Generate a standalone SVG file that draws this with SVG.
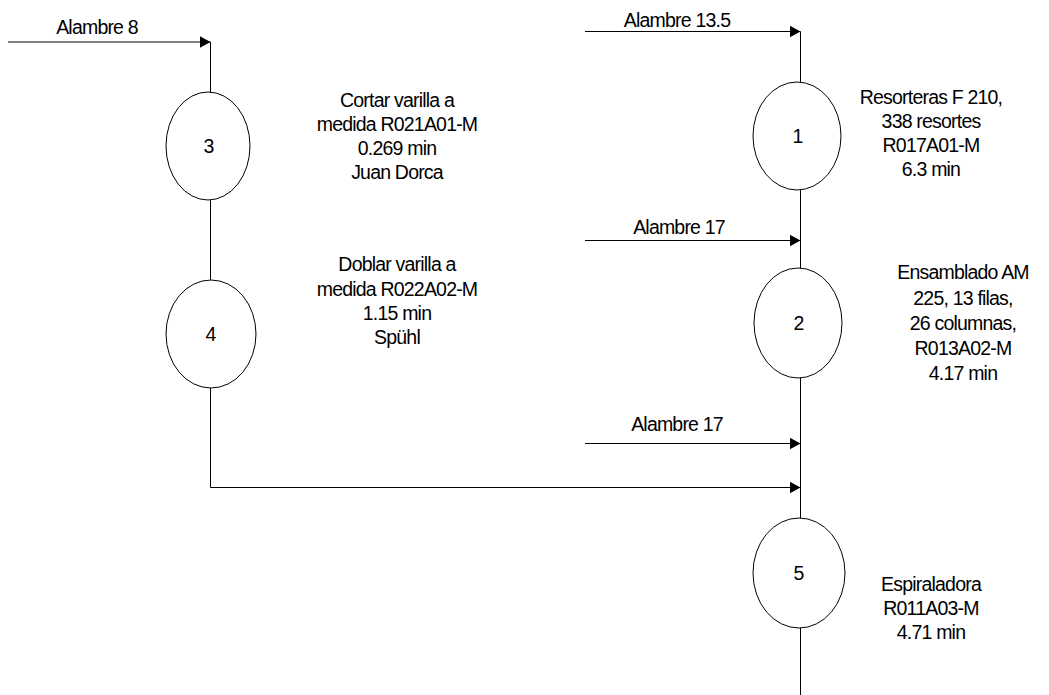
<svg xmlns="http://www.w3.org/2000/svg" width="1049" height="695" viewBox="0 0 1049 695">
  <style>
    .ln { stroke: #000; stroke-width: 1; fill: none; }
    .el { stroke: #000; stroke-width: 1; fill: #fff; }
    .t { font-family: "Liberation Sans", Arial, sans-serif; font-size: 19.5px; fill: #000; text-anchor: middle; letter-spacing: -0.8px; }
    .n { font-family: "Liberation Sans", Arial, sans-serif; font-size: 19.5px; fill: #000; text-anchor: middle; }
  </style>
  <defs>
    <marker id="arr" markerUnits="userSpaceOnUse" markerWidth="11" markerHeight="12" refX="11" refY="6" orient="auto" viewBox="0 0 11 12">
      <path d="M0,0 L11,6 L0,12 z" fill="#000"/>
    </marker>
  </defs>
  <rect width="1049" height="695" fill="#fff"/>

  <g id="connectors">
    <line class="ln" x1="8" y1="42" x2="210.5" y2="42" marker-end="url(#arr)"/>
    <line class="ln" x1="210.5" y1="42" x2="210.5" y2="92"/>
    <line class="ln" x1="210.5" y1="200" x2="210.5" y2="280"/>
    <polyline class="ln" points="210.5,388 210.5,487.5 800.5,487.5" marker-end="url(#arr)"/>
    <line class="ln" x1="585" y1="31.5" x2="800.5" y2="31.5" marker-end="url(#arr)"/>
    <line class="ln" x1="800.5" y1="31.5" x2="800.5" y2="82"/>
    <line class="ln" x1="800.5" y1="190" x2="800.5" y2="268"/>
    <line class="ln" x1="585" y1="240.5" x2="800.5" y2="240.5" marker-end="url(#arr)"/>
    <line class="ln" x1="800.5" y1="378" x2="800.5" y2="518"/>
    <line class="ln" x1="585" y1="443.5" x2="800.5" y2="443.5" marker-end="url(#arr)"/>
    <line class="ln" x1="800.5" y1="628" x2="800.5" y2="695"/>
    <text class="t" x="97" y="34">Alambre 8</text>
    <text class="t" x="677" y="27">Alambre 13.5</text>
    <text class="t" x="679" y="234">Alambre 17</text>
    <text class="t" x="677" y="431">Alambre 17</text>
  </g>

  <g id="node3">
    <ellipse class="el" cx="208" cy="146" rx="42" ry="54"/>
    <text class="n" x="209" y="153">3</text>
    <text class="t" x="397" y="107">Cortar varilla a</text>
    <text class="t" x="397" y="131">medida R021A01-M</text>
    <text class="t" x="397" y="155">0.269 min</text>
    <text class="t" x="397" y="179">Juan Dorca</text>
  </g>

  <g id="node4">
    <ellipse class="el" cx="211" cy="334" rx="45" ry="54"/>
    <text class="n" x="211" y="341">4</text>
    <text class="t" x="397" y="271">Doblar varilla a</text>
    <text class="t" x="397" y="296">medida R022A02-M</text>
    <text class="t" x="397" y="320">1.15 min</text>
    <text class="t" x="397" y="344">Spühl</text>
  </g>

  <g id="node1">
    <ellipse class="el" cx="797" cy="136" rx="44" ry="54"/>
    <text class="n" x="798" y="143">1</text>
    <text class="t" x="931" y="104">Resorteras F 210,</text>
    <text class="t" x="931" y="128">338 resortes</text>
    <text class="t" x="931" y="152">R017A01-M</text>
    <text class="t" x="931" y="176">6.3 min</text>
  </g>

  <g id="node2">
    <ellipse class="el" cx="798" cy="323" rx="44" ry="55"/>
    <text class="n" x="799" y="330">2</text>
    <text class="t" x="963" y="279">Ensamblado AM</text>
    <text class="t" x="963" y="305">225, 13 filas,</text>
    <text class="t" x="963" y="330">26 columnas,</text>
    <text class="t" x="963" y="355">R013A02-M</text>
    <text class="t" x="963" y="380">4.17 min</text>
  </g>

  <g id="node5">
    <ellipse class="el" cx="799" cy="573" rx="46" ry="55"/>
    <text class="n" x="799" y="580">5</text>
    <text class="t" x="931" y="591">Espiraladora</text>
    <text class="t" x="931" y="615">R011A03-M</text>
    <text class="t" x="931" y="639">4.71 min</text>
  </g>
</svg>
